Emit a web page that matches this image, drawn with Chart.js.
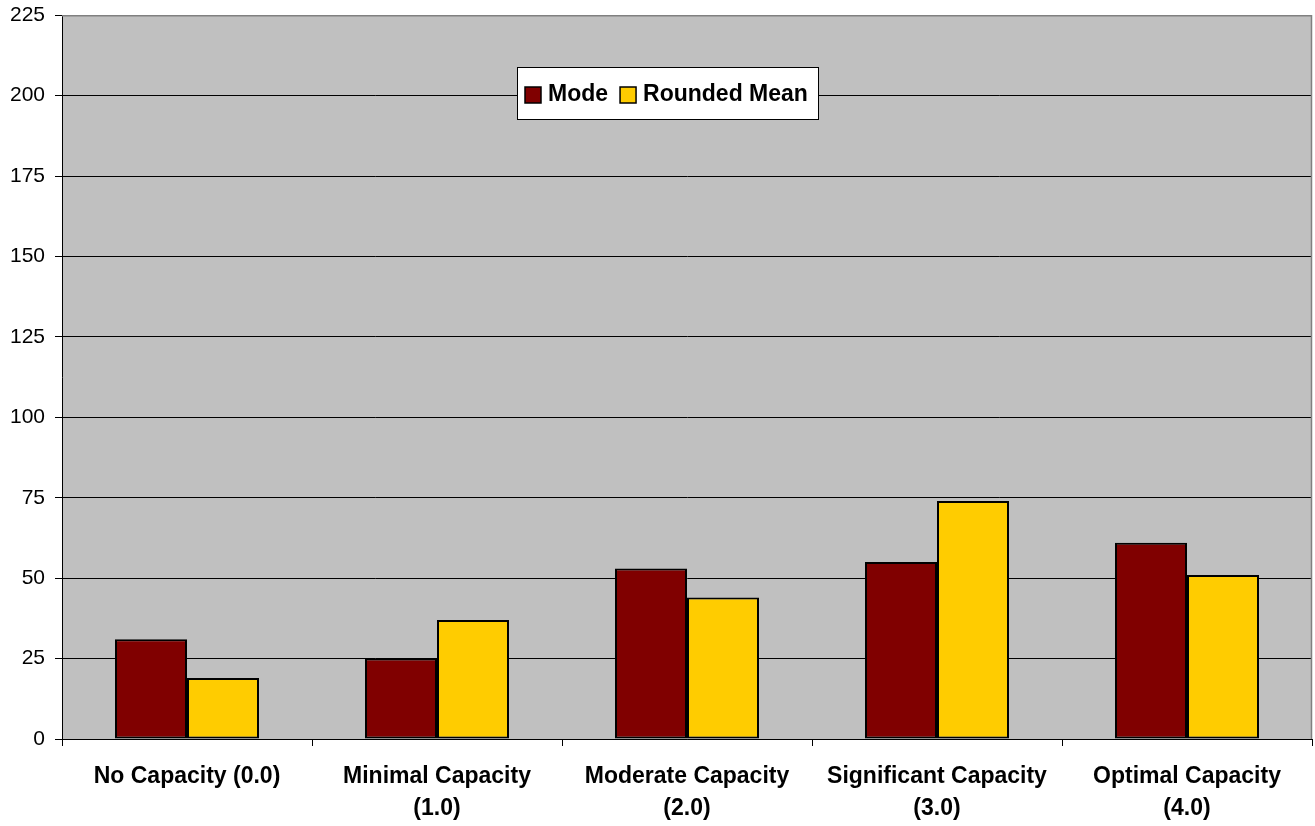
<!DOCTYPE html>
<html>
<head>
<meta charset="utf-8">
<script src="https://cdn.jsdelivr.net/npm/chart.js@4"></script>
<style>
  html,body{margin:0;padding:0;background:#fff;}
  #wrap{width:1315px;height:826px;}
</style>
</head>
<body>
<div id="wrap"><canvas id="chart" width="1315" height="826"></canvas></div>
<script>
const categories = ['No Capacity (0.0)', ['Minimal Capacity','(1.0)'], ['Moderate Capacity','(2.0)'], ['Significant Capacity','(3.0)'], ['Optimal Capacity','(4.0)']];
const modeValues = [31, 25, 53, 55, 61];
const meanValues = [19, 37, 44, 74, 51];
const seriesNames = ['Mode', 'Rounded Mean'];
const seriesColors = ['#800000', '#FFCC00'];
const yMax = 225;
const yStep = 25;

// plot background + gray frame
const plotFrame = {
  id:'plotFrame',
  beforeDraw(chart){
    const {ctx, chartArea:a} = chart;
    ctx.save();
    ctx.fillStyle='#C0C0C0';
    ctx.fillRect(a.left,a.top,a.right-a.left,a.bottom-a.top);
    ctx.restore();
  },
  afterDraw(chart){
    const {ctx, chartArea:a} = chart;
    ctx.save();
    ctx.strokeStyle='#808080';
    ctx.lineWidth=1.5;
    ctx.beginPath();
    ctx.moveTo(a.left,a.top+0.5);ctx.lineTo(a.right-0.5,a.top+0.5);ctx.lineTo(a.right-0.5,a.bottom);
    ctx.stroke();
    ctx.restore();
  }
};

// legend box drawn inside the plot like the original
const boxLegend = {
  id:'boxLegend',
  afterDraw(chart){
    const ctx=chart.ctx;
    const x=517, y=67, w=301, h=52;
    ctx.save();
    ctx.fillStyle='#fff';
    ctx.fillRect(x,y,w,h);
    ctx.strokeStyle='#000';ctx.lineWidth=1;
    ctx.strokeRect(x+0.5,y+0.5,w,h);
    ctx.font='bold 23px "Liberation Sans", Arial, sans-serif';
    ctx.textBaseline='middle';
    let cx=x+8;
    chart.data.datasets.forEach(ds=>{
      ctx.fillStyle=ds.backgroundColor;
      ctx.fillRect(cx,y+20,16,16);
      ctx.strokeStyle='#000';ctx.lineWidth=1.5;
      ctx.strokeRect(cx,y+20,16,16);
      cx+=23;
      ctx.fillStyle='#000';
      ctx.fillText(ds.label,cx,y+28);
      cx+=ctx.measureText(ds.label).width+12;
    });
    ctx.restore();
  }
};

new Chart(document.getElementById('chart'),{
  type:'bar',
  data:{
    labels:categories,
    datasets:[
      {label:seriesNames[0],data:modeValues,backgroundColor:seriesColors[0],borderColor:'#000',borderWidth:2,borderSkipped:false},
      {label:seriesNames[1],data:meanValues,backgroundColor:seriesColors[1],borderColor:'#000',borderWidth:2,borderSkipped:false}
    ]
  },
  options:{
    responsive:false,
    animation:false,
    layout:{padding:{top:0,right:3,left:0,bottom:0}},
    datasets:{bar:{categoryPercentage:0.576,barPercentage:1}},
    plugins:{legend:{display:false},tooltip:{enabled:false}},
    scales:{
      x:{
        grid:{display:true,offset:true,drawOnChartArea:false,drawTicks:true,tickLength:7,color:'#000',lineWidth:1},
        border:{display:true,color:'#000',width:1},
        ticks:{color:'#000',font:{family:'"Liberation Sans", Arial, sans-serif',size:23,weight:'bold',lineHeight:1.37},padding:15,maxRotation:0,autoSkip:false},
        afterFit(s){s.height=87;}
      },
      y:{
        min:0,max:yMax,
        grid:{color:'#000',lineWidth:1,tickLength:7,drawTicks:true},
        border:{display:true,color:'#000',width:1},
        ticks:{stepSize:yStep,color:'#000',font:{family:'"Liberation Sans", Arial, sans-serif',size:21,lineHeight:0.5},padding:10},
        afterFit(s){s.width=62;}
      }
    }
  },
  plugins:[plotFrame,boxLegend]
});
</script>
</body>
</html>
